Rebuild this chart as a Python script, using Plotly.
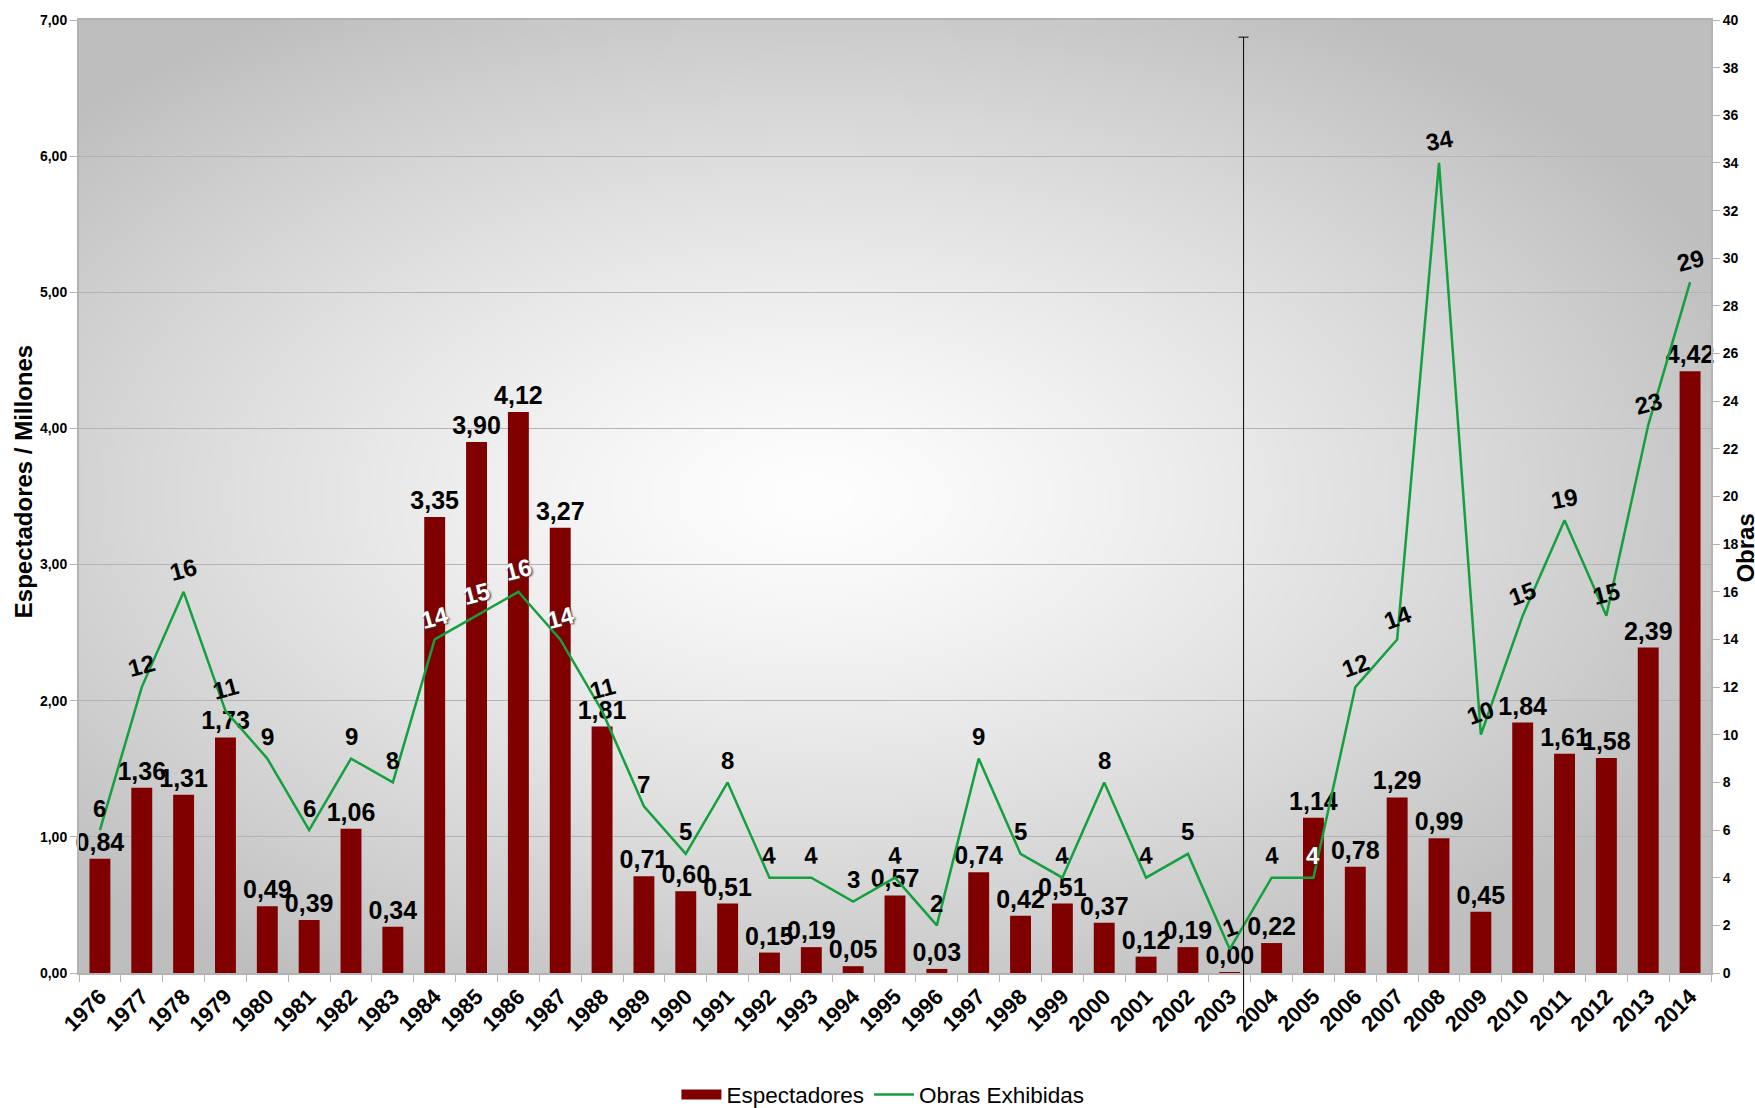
import base64
import struct
import zlib

import numpy as np
import plotly.graph_objects as go

# ---------------- data ----------------
years = [str(y) for y in range(1976, 2015)]
espectadores = [0.84, 1.36, 1.31, 1.73, 0.49, 0.39, 1.06, 0.34, 3.35, 3.90,
                4.12, 3.27, 1.81, 0.71, 0.60, 0.51, 0.15, 0.19, 0.05, 0.57,
                0.03, 0.74, 0.42, 0.51, 0.37, 0.12, 0.19, 0.004, 0.22, 1.14,
                0.78, 1.29, 0.99, 0.45, 1.84, 1.61, 1.58, 2.39, 4.42]
obras = [6, 12, 16, 11, 9, 6, 9, 8, 14, 15,
         16, 14, 11, 7, 5, 8, 4, 4, 3, 4,
         2, 9, 5, 4, 8, 4, 5, 1, 4, 4,
         12, 14, 34, 10, 15, 19, 15, 23, 29]
left_ticks = [0, 1, 2, 3, 4, 5, 6, 7]
left_tick_text = ["0,00", "1,00", "2,00", "3,00", "4,00", "5,00", "6,00", "7,00"]
right_ticks = list(range(0, 41, 2))

# label styling (rotation and colour of line labels)
obras_label_angle = [0, -15, -15, -15, -5, 0, 0, -8, -15, -15,
                     -15, -15, -15, 0, 0, 0, -5, -5, 0, -5,
                     0, 0, 0, -5, 0, -5, 0, -20, -5, 0,
                     -20, -20, -10, -20, -20, -10, -15, -15, -15]
white_label_years = {"1984", "1985", "1986", "1987", "2005"}

FONT = "Liberation Sans"
BAR_COLOR = "#800000"
LINE_COLOR = "#14a03c"

# ---------------- background gradient image ----------------
def gradient_png(w, h):
    u = (np.arange(w) + 0.5) / w
    v = (np.arange(h) + 0.5) / h
    U, V = np.meshgrid(u, v)
    t = np.sqrt(((U - 0.45) / 0.62) ** 2 + ((V - 0.5) / 0.6) ** 2)
    t = np.clip(t, 0, 1)
    val = (254 - 64 * t ** 1.3).astype(np.uint8)
    raw = b"".join(b"\x00" + val[r].tobytes() for r in range(h))

    def chunk(tag, data):
        c = struct.pack(">I", len(data)) + tag + data
        return c + struct.pack(">I", zlib.crc32(tag + data) & 0xFFFFFFFF)

    png = (b"\x89PNG\r\n\x1a\n"
           + chunk(b"IHDR", struct.pack(">IIBBBBB", w, h, 8, 0, 0, 0, 0))
           + chunk(b"IDAT", zlib.compress(raw, 9))
           + chunk(b"IEND", b""))
    return "data:image/png;base64," + base64.b64encode(png).decode()


bg = gradient_png(408, 238)

# ---------------- figure ----------------
fig = go.Figure()

fig.add_trace(go.Bar(
    x=years, y=espectadores, name="Espectadores",
    marker=dict(color=BAR_COLOR, line=dict(width=0)),
    text=[f"{v:.2f}".replace(".", ",") for v in espectadores],
    textposition="outside", cliponaxis=False, constraintext="none",
    textfont=dict(family=FONT, size=25, color="black", weight="bold"),
    showlegend=False, hoverinfo="x+y",
))

fig.add_trace(go.Scatter(
    x=years, y=obras, name="Obras Exhibidas", yaxis="y2",
    mode="lines", line=dict(color=LINE_COLOR, width=2.5),
    showlegend=False, cliponaxis=False,
))

# legend entries (wide swatches like the original)
fig.add_trace(go.Scatter(x=[years[0]], y=[None], mode="lines", name="Espectadores",
                         line=dict(color=BAR_COLOR, width=15)))
fig.add_trace(go.Scatter(x=[years[0]], y=[None], mode="lines", name="Obras Exhibidas",
                         line=dict(color=LINE_COLOR, width=2.5), yaxis="y2"))

annotations = []
for i, (yr, val, ang) in enumerate(zip(years, obras, obras_label_angle)):
    white = yr in white_label_years
    annotations.append(dict(
        x=i, y=val, xref="x", yref="y2", text=str(val), showarrow=False,
        xanchor="center", yanchor="middle", yshift=22, textangle=ang,
        font=dict(family=FONT, size=24, weight="bold",
                  color="white" if white else "black",
                  shadow="1px 1px 2px #333" if white else "none"),
    ))

annotations.append(dict(
    text="Espectadores / Millones", xref="paper", yref="paper",
    x=-0.0343, y=0.515, showarrow=False, textangle=-90,
    xanchor="center", yanchor="middle",
    font=dict(family=FONT, size=24, weight="bold", color="black"),
))
annotations.append(dict(
    text="Obras", xref="paper", yref="paper",
    x=1.0212, y=0.446, showarrow=False, textangle=-90,
    xanchor="center", yanchor="middle",
    font=dict(family=FONT, size=24, weight="bold", color="black"),
))

# thin vertical marker near 2003
mark_x = years.index("2003") + 0.33
shapes = [
    dict(type="line", xref="x", yref="paper", x0=mark_x, x1=mark_x,
         y0=-0.042, y1=0.982, line=dict(color="black", width=1), layer="above"),
    dict(type="line", xref="x", yref="paper", x0=mark_x - 0.12, x1=mark_x + 0.12,
         y0=0.982, y1=0.982, line=dict(color="black", width=1), layer="above"),
]

axis_line = "#b3b3b3"
fig.update_layout(
    width=1755, height=1108,
    margin=dict(l=79, r=44, t=20, b=135, autoexpand=False),
    paper_bgcolor="white",
    plot_bgcolor="rgba(0,0,0,0)",
    bargap=0.5,
    font=dict(family=FONT, color="black"),
    images=[dict(source=bg, xref="paper", yref="paper", x=0, y=1,
                 sizex=1, sizey=1, sizing="stretch", layer="below",
                 xanchor="left", yanchor="top")],
    xaxis=dict(
        type="category", tickangle=-45, tickson="boundaries",
        range=[-0.5, len(years) - 0.5], autorange=False, automargin=False,
        ticks="outside", ticklen=7, tickcolor=axis_line,
        tickfont=dict(family=FONT, size=22, weight="bold", color="black"),
        showline=True, linecolor=axis_line, linewidth=2, mirror=True,
        showgrid=False,
    ),
    yaxis=dict(
        range=[0, 7], tickvals=left_ticks, ticktext=left_tick_text,
        automargin=False,
        ticks="outside", ticklen=7, tickcolor=axis_line,
        tickfont=dict(family=FONT, size=14, weight="bold", color="black"),
        showline=True, linecolor=axis_line, linewidth=2, mirror=True,
        showgrid=True, gridcolor="#b3b3b3", gridwidth=1, zeroline=False,
    ),
    yaxis2=dict(
        range=[0, 40], tickvals=right_ticks, overlaying="y", side="right",
        automargin=False,
        ticks="outside", ticklen=7, tickcolor=axis_line,
        tickfont=dict(family=FONT, size=14, weight="bold", color="black"),
        showline=True, linecolor=axis_line, linewidth=2,
        showgrid=False, zeroline=False,
    ),
    legend=dict(
        orientation="h", x=0.4926, y=-0.128, xanchor="center", yanchor="middle",
        font=dict(family=FONT, size=22.5, color="black"),
        bgcolor="rgba(0,0,0,0)", itemwidth=40,
    ),
    annotations=annotations,
    shapes=shapes,
)

fig.write_html(
    "out.html",
    config={"displayModeBar": False},
    post_script="document.body.style.margin='0';document.body.style.overflow='hidden';",
)
